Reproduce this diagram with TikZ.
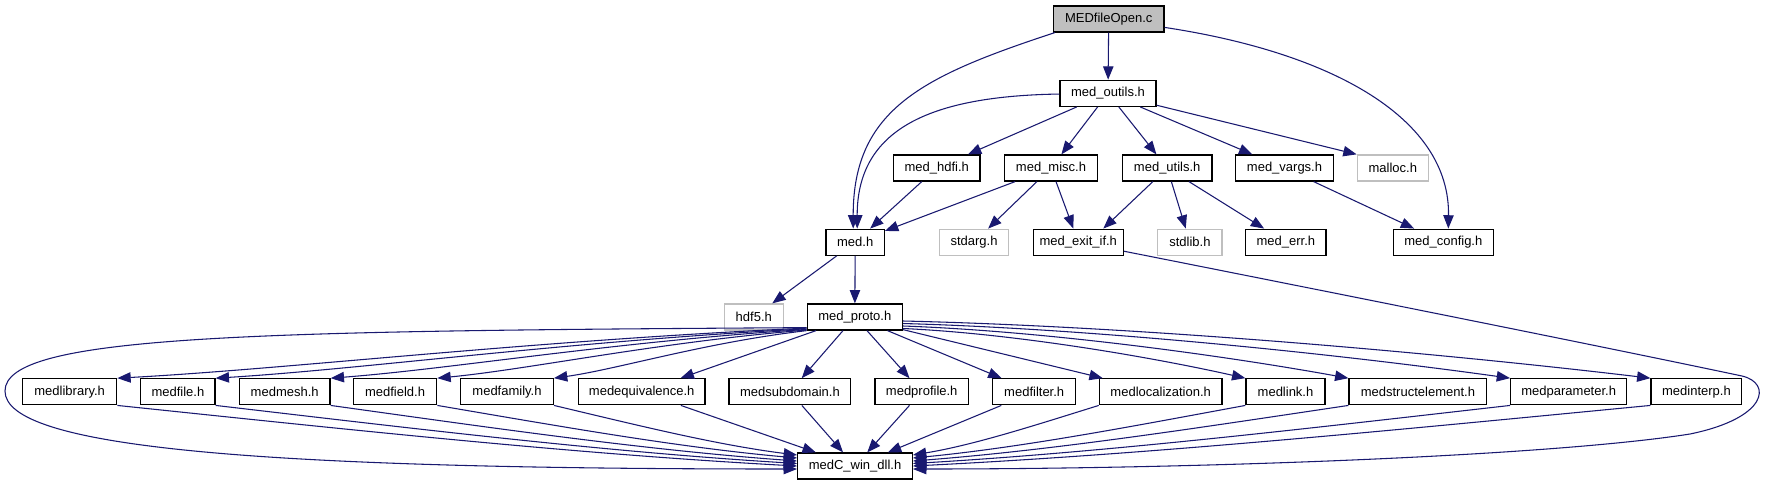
\documentclass[tikz,border=0pt]{standalone}
\usepackage{fontspec}
\setmainfont{Liberation Sans}
\usetikzlibrary{arrows.meta,calc}
\definecolor{edgec}{HTML}{191970}
\definecolor{grayb}{HTML}{BFBFBF}
\begin{document}
\begin{tikzpicture}[x=0.75pt,y=-0.75pt,
  nbox/.style={draw=black, line width=0.95pt, minimum height=19.5pt, inner sep=0pt, font=\fontsize{9.75pt}{11pt}\selectfont},
  gnbox/.style={nbox, draw=grayb},
  dep/.style={draw=edgec, line width=0.8pt, -{Triangle[length=10pt,width=7.8pt]}}]
\useasboundingbox[fill=white] (0,0) rectangle (1765,485);

% row 1
\node[nbox, fill=grayb, minimum width=83pt] (fo) at (1108.7,19) {MEDfileOpen.c};
% row 2
\node[nbox, minimum width=72pt] (outils) at (1108,93.3) {med\_outils.h};
% row 3
\node[nbox, minimum width=65pt] (hdfi) at (936.7,168) {med\_hdfi.h};
\node[nbox, minimum width=70pt] (misc) at (1051,168) {med\_misc.h};
\node[nbox, minimum width=67.3pt] (utils) at (1167.2,168) {med\_utils.h};
\node[nbox, minimum width=73.2pt] (vargs) at (1284.5,168) {med\_vargs.h};
\node[gnbox, minimum width=53.3pt] (malloc) at (1392.8,168) {malloc.h};
% row 4
\node[nbox, minimum width=43.7pt] (medh) at (855.2,242.2) {med.h};
\node[gnbox, minimum width=52pt] (stdarg) at (974,242.2) {stdarg.h};
\node[nbox, minimum width=67.5pt] (exitif) at (1078.3,242.2) {med\_exit\_if.h};
\node[gnbox, minimum width=48.2pt] (stdlib) at (1189.9,242.2) {stdlib.h};
\node[nbox, minimum width=60.2pt] (err) at (1285.9,242.2) {med\_err.h};
\node[nbox, minimum width=75pt] (config) at (1443.3,242.2) {med\_config.h};
% row 5
\node[gnbox, minimum width=44.3pt] (hdf) at (753.8,317) {hdf5.h};
\node[nbox, minimum width=71.3pt] (proto) at (854.8,317) {med\_proto.h};
% row 6
\node[nbox, minimum width=70.5pt] (library) at (69.7,391.8) {medlibrary.h};
\node[nbox, minimum width=55.7pt] (file) at (177.9,391.8) {medfile.h};
\node[nbox, minimum width=68pt] (mesh) at (284.7,391.8) {medmesh.h};
\node[nbox, minimum width=62.6pt] (field) at (395,391.8) {medfield.h};
\node[nbox, minimum width=69.5pt] (family) at (507,391.8) {medfamily.h};
\node[nbox, minimum width=95pt] (equiv) at (641.7,391.8) {medequivalence.h};
\node[nbox, minimum width=91.3pt] (subdom) at (789.9,391.8) {medsubdomain.h};
\node[nbox, minimum width=70pt] (profile) at (921.7,391.8) {medprofile.h};
\node[nbox, minimum width=62.3pt] (filter) at (1034.2,391.8) {medfilter.h};
\node[nbox, minimum width=92pt] (local) at (1160.7,391.8) {medlocalization.h};
\node[nbox, minimum width=59.3pt] (link) at (1285.5,391.8) {medlink.h};
\node[nbox, minimum width=103.3pt] (struct) at (1417.9,391.8) {medstructelement.h};
\node[nbox, minimum width=87pt] (param) at (1568.7,391.8) {medparameter.h};
\node[nbox, minimum width=68pt] (interp) at (1696.4,391.8) {medinterp.h};
% row 7
\node[nbox, minimum width=86pt] (medC) at (855,466) {medC\_win\_dll.h};

% top edges
\draw[dep] (fo) -- (outils);
\draw[dep] ($(fo.south west)+(2,0)$) .. controls (923,76) and (853,109) .. ($(medh.north)+(-2,0)$);
\draw[dep] (fo) .. controls (1334,53) and (1450,119) .. ($(config.north)+(5,0)$);
\draw[dep] (outils) .. controls (930,96) and (857,129) .. ($(medh.north)+(2,0)$);
\draw[dep] (outils) -- (hdfi);
\draw[dep] (outils) -- (misc);
\draw[dep] (outils) -- (utils);
\draw[dep] (outils) -- (vargs);
\draw[dep] (outils) -- (malloc.north west);
\draw[dep] (hdfi) -- (medh);
\draw[dep] (misc) -- (medh);
\draw[dep] (misc) -- (stdarg);
\draw[dep] (misc) -- (exitif);
\draw[dep] (utils) -- ($(exitif.north)+(25,0)$);
\draw[dep] (utils) -- (stdlib);
\draw[dep] (utils) -- (err);
\draw[dep] (vargs) -- (config);
\draw[dep] (medh) -- (hdf);
\draw[dep] (medh) -- (proto);

% long loops
\draw[dep] (exitif) .. controls (1350,296) and (1600,346) .. (1742,376)
  .. controls (1772,383) and (1768,418) .. (1690,434)
  .. controls (1550,456) and (1200,469) .. ($(medC.east)+(0,3)$);
\draw[dep] ($(proto.south west)+(0,-3)$) .. controls (250,331) and (5,335) .. (5,391)
  .. controls (5,447) and (250,469) .. ($(medC.west)+(0,3)$);

% proto fan left
\draw[dep] ($(proto.south west)+(0,-2.5)$) .. controls (531.1,340.5) and (289.4,368.9) .. (library.north east);
\draw[dep] ($(proto.south west)+(0,-1.8)$) .. controls (570.4,341) and (363.1,369.1) .. (file.north east);
\draw[dep] ($(proto.south west)+(0,-1.2)$) .. controls (616.4,341.4) and (449.3,369.2) .. (mesh.north east);
\draw[dep] ($(proto.south west)+(0,-0.6)$) .. controls (659.1,341.9) and (529.4,369.3) .. (field.north east);
\draw[dep] (proto.south west) .. controls (705.7,342.3) and (616.8,369.4) .. (family.north east);
% proto fan middle
\draw[dep] (proto) -- (equiv);
\draw[dep] (proto) -- (subdom);
\draw[dep] (proto) -- (profile);
\draw[dep] (proto) -- (filter);
\draw[dep] ($(proto.south east)+(0,-1)$) -- ($(local.north west)+(4,0)$);
% proto fan right
\draw[dep] ($(proto.east)+(0,11.5)$) .. controls (1015.7,333.6) and (1153.2,357.5) .. (link.north west);
\draw[dep] ($(proto.east)+(0,9)$) .. controls (1049.7,331.3) and (1228.4,356.4) .. (struct.north west);
\draw[dep] ($(proto.east)+(0,6.5)$) .. controls (1103.1,329.1) and (1346.4,355.3) .. (param.north west);
\draw[dep] ($(proto.east)+(0,4)$) .. controls (1149.4,326.8) and (1448.9,354.2) .. (interp.north west);

% row 6 to medC, left
\draw[dep] (library.south east) .. controls (343.7,429) and (570.7,453.7) .. ($(medC.west)+(0,0)$);
\draw[dep] (file.south east) .. controls (409.2,428) and (603.5,451.7) .. ($(medC.west)+(0,-2.5)$);
\draw[dep] (mesh.south east) .. controls (485.9,427) and (641.8,449.7) .. ($(medC.west)+(0,-5)$);
\draw[dep] (field.south east) .. controls (557,425.8) and (677.4,447.3) .. ($(medC.west)+(0,-8)$);
\draw[dep] (family.south east) .. controls (634.8,424.6) and (716.2,444.9) .. ($(medC.west)+(0,-11)$);
% middle
\draw[dep] (equiv) -- (medC);
\draw[dep] (subdom) -- (medC);
\draw[dep] (profile) -- (medC);
\draw[dep] (filter) -- (medC);
% right
\draw[dep] (local.south west) .. controls (1037,424.6) and (974.6,444.9) .. ($(medC.east)+(0,-11)$);
\draw[dep] (link.south west) .. controls (1134.8,425.8) and (1023.5,447.3) .. ($(medC.east)+(0,-8)$);
\draw[dep] (struct.south west) .. controls (1203.4,427) and (1057.9,449.7) .. ($(medC.east)+(0,-5)$);
\draw[dep] (param.south west) .. controls (1311.2,428) and (1111.8,451.7) .. ($(medC.east)+(0,-2.5)$);
\draw[dep] (interp.south west) .. controls (1404.8,429) and (1158.5,453.7) .. ($(medC.east)+(0,0)$);
\end{tikzpicture}
\end{document}
